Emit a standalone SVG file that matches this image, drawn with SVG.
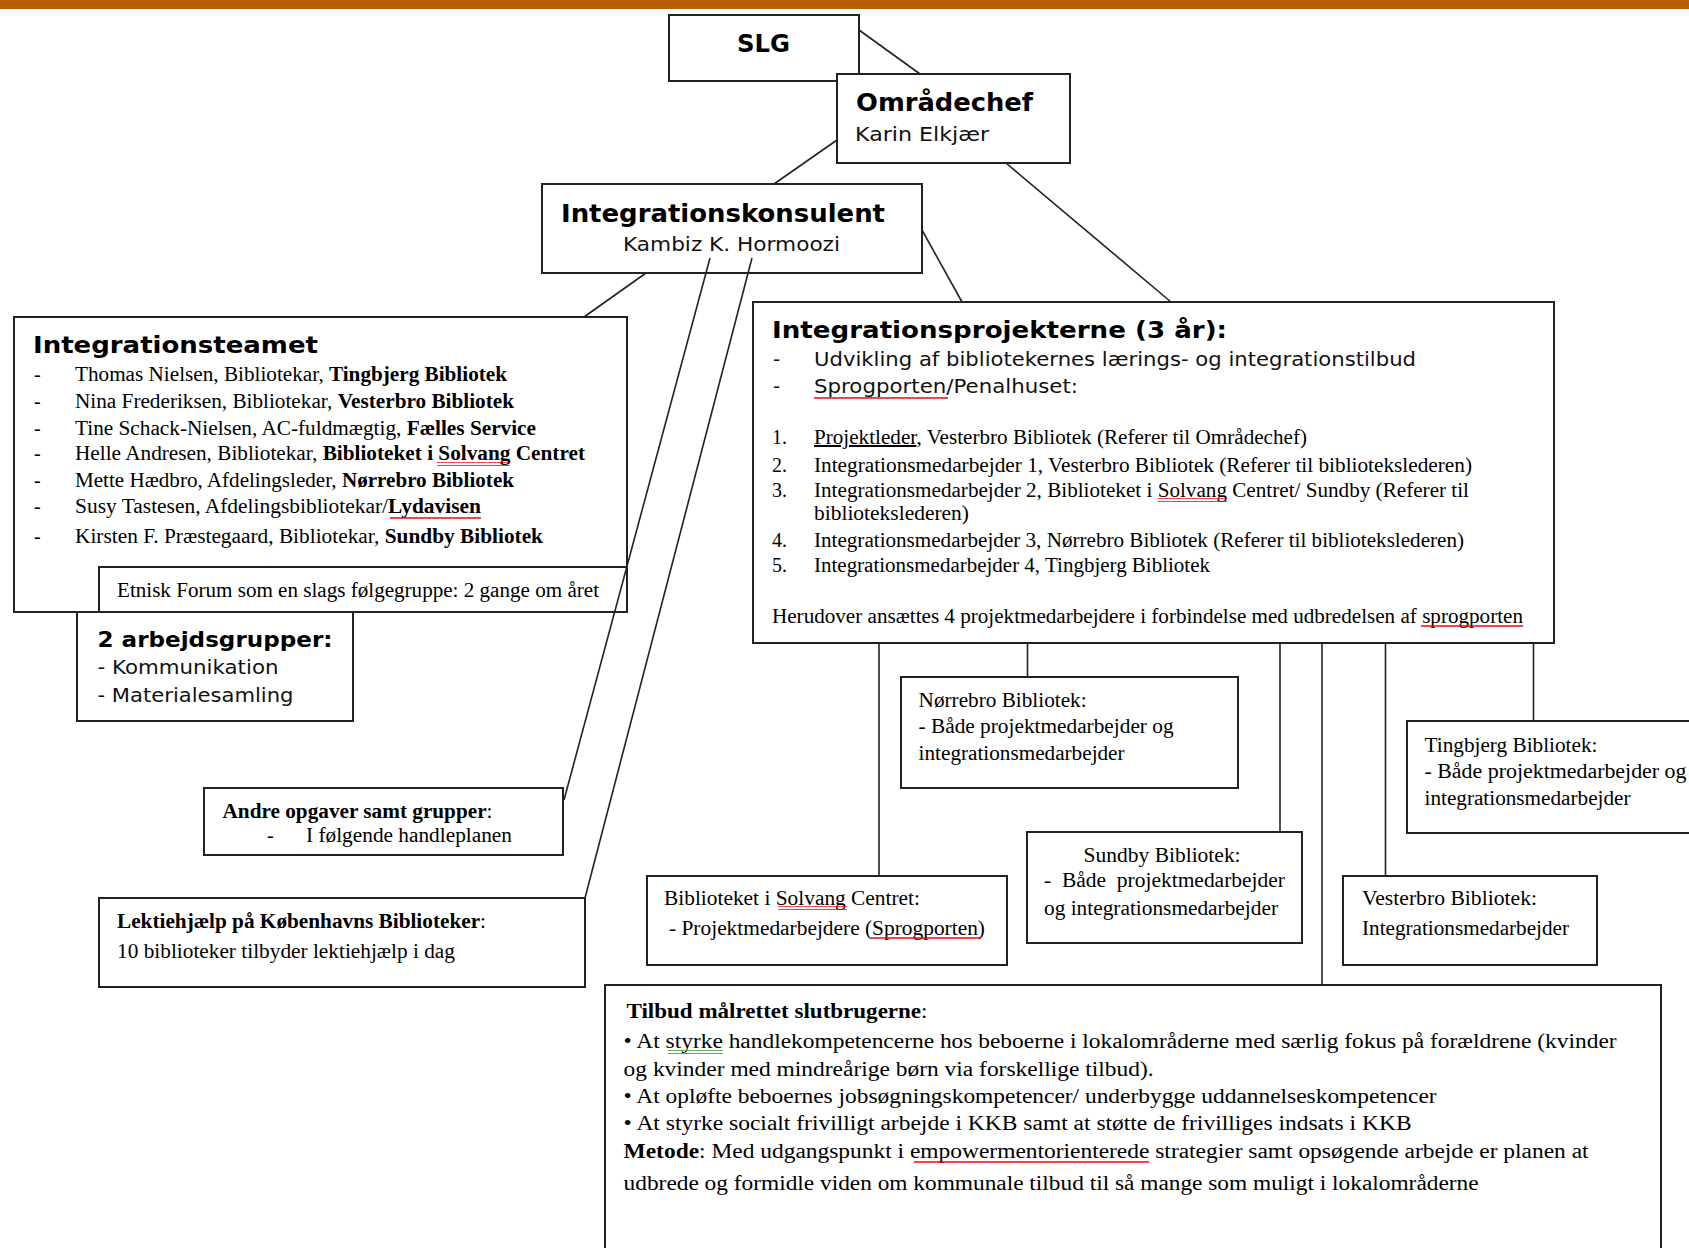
<svg xmlns="http://www.w3.org/2000/svg" width="1689" height="1248" viewBox="0 0 1689 1248">
<defs>
<style>
.box{fill:#fff;stroke:#222;stroke-width:2}
.ln{stroke:#222;stroke-width:1.6;fill:none}
.sb{font-family:"DejaVu Sans",Verdana,sans-serif;font-weight:bold;fill:#000}
.s{font-family:"DejaVu Sans",Verdana,sans-serif;font-size:20px;fill:#111}
.t{font-family:"Liberation Serif","Times New Roman",serif;font-size:20px;fill:#000}
.b{font-weight:bold}
.sq{fill:url(#wv)}
.sqg{fill:url(#wvg)}
</style>
<pattern id="wv" width="4" height="4" patternUnits="userSpaceOnUse"><path d="M0 3 L1 1 L2 3 L3 1 L4 3" stroke="#e00" stroke-width="0.9" fill="none"/></pattern>
<pattern id="wvg" width="4" height="4" patternUnits="userSpaceOnUse"><path d="M0 3 L1 1 L2 3 L3 1 L4 3" stroke="#1a9a1a" stroke-width="0.9" fill="none"/></pattern>
</defs>
<rect x="0" y="0" width="1689" height="1248" fill="#fff"/>
<rect x="0" y="0" width="1689" height="9" fill="#B95D00"/>

<g id="slg">
<rect class="box" x="669" y="15" width="190" height="66"/>
<text class="sb" x="737" y="52" font-size="24" textLength="53" lengthAdjust="spacingAndGlyphs">SLG</text>
</g>

<g id="omraadechef">
<rect class="box" x="837" y="74" width="233" height="89"/>
<text class="sb" x="856" y="111" font-size="24" textLength="177" lengthAdjust="spacingAndGlyphs">Områdechef</text>
<text class="s" x="855" y="141" font-size="19" textLength="134" lengthAdjust="spacingAndGlyphs">Karin Elkjær</text>
</g>

<g id="integrationskonsulent">
<rect class="box" x="542" y="184" width="380" height="89"/>
<text class="sb" x="561" y="222" font-size="24" textLength="324" lengthAdjust="spacingAndGlyphs">Integrationskonsulent</text>
<text class="s" x="623" y="251" textLength="217" lengthAdjust="spacingAndGlyphs">Kambiz K. Hormoozi</text>
</g>

<g id="integrationsteamet">
<rect class="box" x="14" y="317" width="613" height="295"/>
<text class="sb" x="33" y="353" font-size="23" textLength="285" lengthAdjust="spacingAndGlyphs">Integrationsteamet</text>
<g class="t">
<text x="34" y="381">-</text>
<text x="75" y="381" textLength="432" lengthAdjust="spacingAndGlyphs">Thomas Nielsen, Bibliotekar, <tspan class="b">Tingbjerg Bibliotek</tspan></text>
<text x="34" y="408">-</text>
<text x="75" y="408" textLength="439" lengthAdjust="spacingAndGlyphs">Nina Frederiksen, Bibliotekar, <tspan class="b">Vesterbro Bibliotek</tspan></text>
<text x="34" y="435">-</text>
<text x="75" y="435" textLength="461" lengthAdjust="spacingAndGlyphs">Tine Schack-Nielsen, AC-fuldmægtig, <tspan class="b">Fælles Service</tspan></text>
<text x="34" y="460">-</text>
<text x="75" y="460" textLength="510" lengthAdjust="spacingAndGlyphs">Helle Andresen, Bibliotekar, <tspan class="b">Biblioteket i Solvang Centret</tspan></text>
<text x="34" y="487">-</text>
<text x="75" y="487" textLength="439" lengthAdjust="spacingAndGlyphs">Mette Hædbro, Afdelingsleder, <tspan class="b">Nørrebro Bibliotek</tspan></text>
<text x="34" y="513">-</text>
<text x="75" y="513" textLength="406" lengthAdjust="spacingAndGlyphs">Susy Tastesen, Afdelingsbibliotekar/<tspan class="b">Lydavisen</tspan></text>
<text x="34" y="543">-</text>
<text x="75" y="543" textLength="468" lengthAdjust="spacingAndGlyphs">Kirsten F. Præstegaard, Bibliotekar, <tspan class="b">Sundby Bibliotek</tspan></text>
</g>
<rect class="sq" x="437" y="462" width="73" height="4"/>
<rect class="sq" x="390" y="515" width="91" height="4"/>
</g>

<g id="etnisk-forum">
<rect class="box" x="99" y="567" width="528" height="45"/>
<text class="t" x="117" y="597" textLength="482" lengthAdjust="spacingAndGlyphs">Etnisk Forum som en slags følgegruppe: 2 gange om året</text>
</g>

<g id="arbejdsgrupper">
<rect class="box" x="77" y="612" width="276" height="109"/>
<text class="sb" x="97.5" y="647" font-size="21" textLength="235" lengthAdjust="spacingAndGlyphs">2 arbejdsgrupper:</text>
<text class="s" x="97.5" y="674" textLength="181" lengthAdjust="spacingAndGlyphs">- Kommunikation</text>
<text class="s" x="97.5" y="702" textLength="196" lengthAdjust="spacingAndGlyphs">- Materialesamling</text>
</g>

<g id="andre-opgaver">
<rect class="box" x="204" y="788" width="359" height="67"/>
<text class="t" x="222.5" y="818" textLength="270" lengthAdjust="spacingAndGlyphs"><tspan class="b">Andre opgaver samt grupper</tspan>:</text>
<text class="t" x="267" y="842">-</text>
<text class="t" x="306" y="842" textLength="206" lengthAdjust="spacingAndGlyphs">I følgende handleplanen</text>
</g>

<g id="lektiehjaelp">
<rect class="box" x="99" y="898" width="486" height="89"/>
<text class="t" x="117" y="928" textLength="369" lengthAdjust="spacingAndGlyphs"><tspan class="b">Lektiehjælp på Københavns Biblioteker</tspan>:</text>
<text class="t" x="117" y="958" textLength="338" lengthAdjust="spacingAndGlyphs">10 biblioteker tilbyder lektiehjælp i dag</text>
</g>

<g id="integrationsprojekterne">
<rect class="box" x="753" y="302" width="801" height="341"/>
<text class="sb" x="772" y="338" font-size="23" textLength="455" lengthAdjust="spacingAndGlyphs">Integrationsprojekterne (3 år):</text>
<text class="s" x="773" y="366">-</text>
<text class="s" x="814" y="366" textLength="602" lengthAdjust="spacingAndGlyphs">Udvikling af bibliotekernes lærings- og integrationstilbud</text>
<text class="s" x="773" y="393">-</text>
<text class="s" x="814" y="393" textLength="264" lengthAdjust="spacingAndGlyphs">Sprogporten/Penalhuset:</text>
<rect class="sq" x="814" y="395" width="134" height="4"/>
<g class="t">
<text x="772" y="444">1.</text>
<text x="814" y="444" textLength="493" lengthAdjust="spacingAndGlyphs"><tspan text-decoration="underline">Projektleder</tspan>, Vesterbro Bibliotek (Referer til Områdechef)</text>
<text x="772" y="472">2.</text>
<text x="814" y="472" textLength="658" lengthAdjust="spacingAndGlyphs">Integrationsmedarbejder 1, Vesterbro Bibliotek (Referer til bibliotekslederen)</text>
<text x="772" y="497">3.</text>
<text x="814" y="497" textLength="655" lengthAdjust="spacingAndGlyphs">Integrationsmedarbejder 2, Biblioteket i Solvang Centret/ Sundby (Referer til</text>
<text x="814" y="520" textLength="155" lengthAdjust="spacingAndGlyphs">bibliotekslederen)</text>
<text x="772" y="547">4.</text>
<text x="814" y="547" textLength="650" lengthAdjust="spacingAndGlyphs">Integrationsmedarbejder 3, Nørrebro Bibliotek (Referer til bibliotekslederen)</text>
<text x="772" y="572">5.</text>
<text x="814" y="572" textLength="396" lengthAdjust="spacingAndGlyphs">Integrationsmedarbejder 4, Tingbjerg Bibliotek</text>
<text x="772" y="623" textLength="751" lengthAdjust="spacingAndGlyphs">Herudover ansættes 4 projektmedarbejdere i forbindelse med udbredelsen af sprogporten</text>
</g>
<rect class="sq" x="1158" y="498" width="69" height="4"/>
<rect class="sq" x="1421" y="625" width="102" height="4"/>
</g>

<g id="noerrebro">
<rect class="box" x="901" y="677" width="337" height="111"/>
<g class="t">
<text x="918.6" y="707" textLength="168" lengthAdjust="spacingAndGlyphs">Nørrebro Bibliotek:</text>
<text x="918.6" y="733" textLength="255" lengthAdjust="spacingAndGlyphs">- Både projektmedarbejder og</text>
<text x="918.6" y="760" textLength="206" lengthAdjust="spacingAndGlyphs">integrationsmedarbejder</text>
</g>
</g>

<g id="tingbjerg">
<rect class="box" x="1407" y="721" width="300" height="112"/>
<g class="t">
<text x="1424.5" y="752" textLength="173" lengthAdjust="spacingAndGlyphs">Tingbjerg Bibliotek:</text>
<text x="1424.5" y="778" textLength="262" lengthAdjust="spacingAndGlyphs">- Både projektmedarbejder og</text>
<text x="1424.5" y="805" textLength="206" lengthAdjust="spacingAndGlyphs">integrationsmedarbejder</text>
</g>
</g>

<g id="sundby">
<rect class="box" x="1027" y="832" width="275" height="111"/>
<g class="t">
<text x="1083.6" y="862" textLength="157" lengthAdjust="spacingAndGlyphs">Sundby Bibliotek:</text>
<text x="1044" y="887" textLength="241" lengthAdjust="spacingAndGlyphs" xml:space="preserve">-  Både  projektmedarbejder</text>
<text x="1044" y="915" textLength="234" lengthAdjust="spacingAndGlyphs">og integrationsmedarbejder</text>
</g>
</g>

<g id="solvang">
<rect class="box" x="647" y="876" width="360" height="89"/>
<g class="t">
<text x="664" y="905" textLength="256" lengthAdjust="spacingAndGlyphs">Biblioteket i Solvang Centret:</text>
<text x="669" y="935" textLength="316" lengthAdjust="spacingAndGlyphs">- Projektmedarbejdere (Sprogporten)</text>
</g>
<rect class="sq" x="778" y="906" width="69" height="4"/>
<rect class="sq" x="871" y="937" width="110" height="4"/>
</g>

<g id="vesterbro">
<rect class="box" x="1343" y="876" width="254" height="89"/>
<g class="t">
<text x="1362" y="905" textLength="175" lengthAdjust="spacingAndGlyphs">Vesterbro Bibliotek:</text>
<text x="1362" y="935" textLength="207" lengthAdjust="spacingAndGlyphs">Integrationsmedarbejder</text>
</g>
</g>

<g id="tilbud">
<rect class="box" x="605" y="985" width="1056" height="280"/>
<g class="t">
<text x="626.5" y="1018" textLength="301" lengthAdjust="spacingAndGlyphs"><tspan class="b">Tilbud målrettet slutbrugerne</tspan>:</text>
<text x="623.6" y="1048" textLength="993" lengthAdjust="spacingAndGlyphs">• At styrke handlekompetencerne hos beboerne i lokalområderne med særlig fokus på forældrene (kvinder</text>
<text x="623.6" y="1076" textLength="530" lengthAdjust="spacingAndGlyphs">og kvinder med mindreårige børn via forskellige tilbud).</text>
<text x="623.6" y="1103" textLength="813" lengthAdjust="spacingAndGlyphs">• At opløfte beboernes jobsøgningskompetencer/ underbygge uddannelseskompetencer</text>
<text x="623.6" y="1130" textLength="788" lengthAdjust="spacingAndGlyphs">• At styrke socialt frivilligt arbejde i KKB samt at støtte de frivilliges indsats i KKB</text>
<text x="623.6" y="1158" textLength="965" lengthAdjust="spacingAndGlyphs"><tspan class="b">Metode</tspan>: Med udgangspunkt i empowermentorienterede strategier samt opsøgende arbejde er planen at</text>
<text x="623.6" y="1190" textLength="855" lengthAdjust="spacingAndGlyphs">udbrede og formidle viden om kommunale tilbud til så mange som muligt i lokalområderne</text>
</g>
<rect class="sqg" x="668" y="1050" width="55" height="4"/>
<rect class="sq" x="914" y="1161" width="235" height="4"/>
</g>

<g id="connectors">
<line class="ln" x1="859" y1="30" x2="920" y2="74"/>
<line class="ln" x1="837" y1="140" x2="774" y2="184"/>
<line class="ln" x1="1006" y1="163" x2="1171" y2="302"/>
<line class="ln" x1="922" y1="230" x2="962" y2="302"/>
<line class="ln" x1="646" y1="273" x2="584" y2="317"/>
<line class="ln" x1="710" y1="258" x2="564" y2="800"/>
<line class="ln" x1="752" y1="258" x2="585" y2="898"/>
<line class="ln" x1="879" y1="643" x2="879" y2="876"/>
<line class="ln" x1="1027.5" y1="643" x2="1027.5" y2="677"/>
<line class="ln" x1="1280" y1="643" x2="1280" y2="832"/>
<line class="ln" x1="1322" y1="643" x2="1322" y2="985"/>
<line class="ln" x1="1385.5" y1="643" x2="1385.5" y2="876"/>
<line class="ln" x1="1533.5" y1="643" x2="1533.5" y2="721"/>
</g>
</svg>
